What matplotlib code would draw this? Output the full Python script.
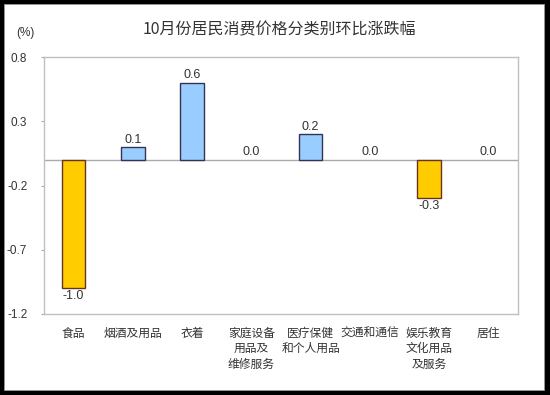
import numpy as np
import matplotlib.pyplot as plt
from matplotlib.patches import Rectangle

# ===> data
categories = ['食品', '烟酒及用品', '衣着', '家庭设备\n用品及\n维修服务', '医疗保健\n和个人用品',
              '交通和通信', '娱乐教育\n文化用品\n及服务', '居住']
values = [-1.0, 0.1, 0.6, 0.0, 0.2, 0.0, -0.3, 0.0]
yticks = [0.8, 0.3, -0.2, -0.7, -1.2]
title = '10月份居民消费价格分类别环比涨跌幅'

plt.rcParams['font.family'] = ['Liberation Sans', 'Noto Sans CJK SC', 'DejaVu Sans']
cjk = ['Noto Sans CJK SC', 'DejaVu Sans']
txt = '#333333'

fig = plt.figure(figsize=(5.5, 3.95), dpi=100, facecolor='black')
# white panel inside the black border
fig.patches.append(Rectangle((4/550, 5/395), 540/550, 386/395, transform=fig.transFigure,
                             facecolor='white', edgecolor='#999999', lw=0.6, zorder=-10))

ax = fig.add_axes([44/550, 81/395, 474/550, 257/395])
ax.set_zorder(5)
ax.set_facecolor('white')

x = np.arange(len(values))
cols = ['#FFCC00' if v < 0 else '#99CCFF' for v in values]
edges = ['#663322' if v < 0 else '#333355' for v in values]
lws = [1.0 if v != 0 else 0.0 for v in values]
ax.bar(x, values, width=0.4, color=cols, edgecolor=edges, linewidth=lws, zorder=3)
ax.axhline(0, color='#AAAAAA', lw=1.0, zorder=2)

for xi, v in zip(x, values):
    if v < 0:
        ax.annotate('%.1f' % v, (xi, v), xytext=(0, -1), textcoords='offset points',
                    ha='center', va='top', fontsize=9, color=txt)
    else:
        ax.annotate('%.1f' % v, (xi, v), xytext=(0, 1), textcoords='offset points',
                    ha='center', va='bottom', fontsize=9, color=txt)

ax.set_xlim(-0.5, len(values) - 0.5)
ax.set_ylim(-1.2, 0.8)
ax.set_yticks(yticks)
ax.set_yticklabels(['%.1f' % t for t in yticks], fontsize=8.5, color=txt)
ax.tick_params(axis='y', length=2, width=0.8, color='#AAAAAA', pad=10)
ax.set_xticks(x)
ax.set_xticklabels(categories, fontsize=8.5, color=txt, family=cjk, linespacing=1.25)
ax.tick_params(axis='x', length=0, pad=9)
for s in ax.spines.values():
    s.set_color('#C0C0C0')
    s.set_linewidth(1.0)

fig.text(279/550, 1 - 30/395, title, ha='center', va='center', fontsize=11.5,
         color=txt, family=cjk)
fig.text(25/550, 1 - 33/395, '(%)', ha='center', va='center', fontsize=8.5, color=txt)

fig.savefig('out.png', dpi=100, facecolor='black')
